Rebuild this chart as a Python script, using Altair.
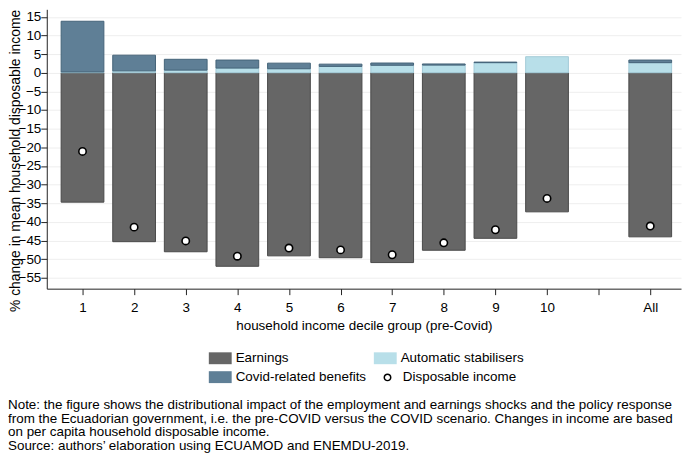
import altair as alt
import pandas as pd

groups = ["1", "2", "3", "4", "5", "6", "7", "8", "9", "10", "All"]
positions = [1, 2, 3, 4, 5, 6, 7, 8, 9, 10, 12]
earnings = [-34.7, -45.3, -48.0, -51.9, -49.1, -49.6, -50.9, -47.6, -44.4, -37.3, -44.0]
stabilisers = [0.2, 0.5, 0.7, 1.25, 1.07, 1.7, 2.0, 2.05, 2.7, 4.3, 2.7]
covid = [13.6, 4.2, 2.9, 2.15, 1.5, 0.6, 0.6, 0.3, 0.15, 0.0, 0.7]
disposable = [-21.1, -41.4, -45.1, -49.2, -47.0, -47.5, -48.8, -45.6, -42.1, -33.7, -41.1]

bar_components = ["Earnings", "Automatic stabilisers", "Covid-related benefits"]
point_component = "Disposable income"
fill_colors = ["#666666", "#b8dfe9", "#5f7f96"]
stroke_colors = ["#4a4a4a", "#a3cbd8", "#456479"]

y_ticks = [-55, -50, -45, -40, -35, -30, -25, -20, -15, -10, -5, 0, 5, 10, 15]
x_ticks = [1, 2, 3, 4, 5, 6, 7, 8, 9, 10, 11, 12]

note_lines = [
    "Note: the figure shows the distributional impact of the employment and earnings shocks and the policy response",
    "from the Ecuadorian government, i.e. the pre-COVID versus the COVID scenario. Changes in income are based",
    "on per capita household disposable income.",
    "Source: authors\u2019 elaboration using ECUAMOD and ENEMDU-2019.",
]

rows = []
for g, p, e, s, c, d in zip(groups, positions, earnings, stabilisers, covid, disposable):
    rows.append({"group": g, "pos": p, "component": bar_components[0], "value": e, "order": 0})
    rows.append({"group": g, "pos": p, "component": bar_components[1], "value": s, "order": 1})
    rows.append({"group": g, "pos": p, "component": bar_components[2], "value": c, "order": 2})
    rows.append({"group": g, "pos": p, "component": point_component, "value": d, "order": 3})
df = pd.DataFrame(rows)

FONT = "Liberation Sans"
FS = 13.5
RECT = "M-1,-0.52H1V0.52H-1Z"


def x_axis():
    return alt.Axis(
        values=x_ticks,
        labelExpr="datum.value == 12 ? 'All' : (datum.value == 11 ? '' : datum.label)",
        title="household income decile group (pre-Covid)",
        grid=False,
        tickSize=6,
        labelPadding=6,
        labelOverlap=False,
        domainColor="#222222",
        tickColor="#222222",
        labelColor="black",
        titleColor="black",
        labelFontSize=FS,
        titleFontSize=FS,
        titleFontWeight="normal",
        titlePadding=5,
        labelFont=FONT,
        titleFont=FONT,
    )


def y_axis():
    return alt.Axis(
        values=y_ticks,
        title="% change in mean household disposable income",
        grid=True,
        gridColor="#eeeeee",
        gridWidth=1,
        tickSize=6,
        labelPadding=0,
        labelOverlap=False,
        labelBound=False,
        domainColor="#222222",
        tickColor="#222222",
        labelColor="black",
        titleColor="black",
        labelFontSize=FS,
        titleFontSize=14,
        titleFontWeight="normal",
        titleX=-24,
        titleY=152,
        labelFont=FONT,
        titleFont=FONT,
    )


x_scale = alt.Scale(domain=[0.404, 12.5], nice=False, zero=False)
y_scale = alt.Scale(domain=[-57.9, 17], nice=False, zero=False)

bar_legend = alt.Legend(
    title=None,
    orient="none",
    direction="horizontal",
    legendX=163,
    legendY=339.5,
    columns=2,
    columnPadding=7,
    rowPadding=1,
    labelFont=FONT,
    labelFontSize=FS,
    labelColor="black",
    labelOffset=4,
    symbolType=RECT,
    symbolSize=529,
    symbolStrokeWidth=0,
    symbolOpacity=1,
)

base = alt.Chart(df)

bars = base.transform_filter(
    "datum.component != 'Disposable income' && datum.value != 0"
).mark_bar(size=43, strokeWidth=1).encode(
    x=alt.X("pos:Q", scale=x_scale, axis=x_axis()),
    y=alt.Y("value:Q", stack="zero", scale=y_scale, axis=y_axis()),
    color=alt.Color("component:N", sort=bar_components,
                    scale=alt.Scale(domain=bar_components, range=fill_colors),
                    legend=bar_legend),
    stroke=alt.Stroke("component:N", sort=bar_components,
                      scale=alt.Scale(domain=bar_components, range=stroke_colors),
                      legend=None),
    order=alt.Order("order:Q"),
)

points = base.transform_filter(
    "datum.component == 'Disposable income'"
).mark_point(shape="circle", filled=False, size=55, fill="white",
             strokeWidth=1.6, opacity=1, fillOpacity=1).encode(
    x=alt.X("pos:Q", scale=x_scale, axis=x_axis()),
    y=alt.Y("value:Q", scale=y_scale, axis=y_axis()),
    stroke=alt.Stroke(
        "component:N",
        scale=alt.Scale(domain=[point_component], range=["#000000"]),
        legend=alt.Legend(
            title=None,
            orient="none",
            legendX=336,
            legendY=363.5,
            labelFont=FONT,
            labelFontSize=FS,
            labelColor="black",
            labelOffset=8.7,
            symbolType="circle",
            symbolSize=42,
            symbolFillColor="white",
            symbolStrokeWidth=1.5,
            symbolOpacity=1,
        ),
    ),
)

notes = alt.Chart(pd.DataFrame({"n": [0]})).mark_text(
    text=note_lines,
    align="left",
    baseline="top",
    font=FONT,
    fontSize=13.5,
    lineHeight=13.8,
    color="black",
).encode(x=alt.value(-39), y=alt.value(391))

chart = alt.layer(bars, points, notes).resolve_scale(
    stroke="independent"
).resolve_legend(
    stroke="independent"
).properties(
    width=638,
    height=281,
    autosize=alt.AutoSizeParams(type="none"),
    padding={"left": 39, "top": 0, "right": 4, "bottom": 170},
).configure(font=FONT).configure_view(stroke=None)

chart.save("out.html", embed_options={"renderer": "svg", "actions": False})
